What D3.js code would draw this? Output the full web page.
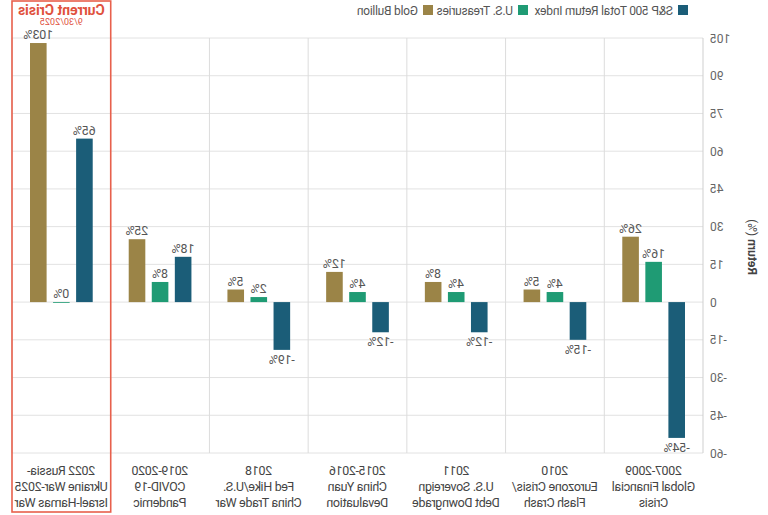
<!DOCTYPE html>
<html>
<head>
<meta charset="utf-8">
<script src="https://cdn.jsdelivr.net/npm/d3@7"></script>
<style>
  body { margin: 0; background: #fff; }
  svg { display: block; transform: scaleX(-1); font-family: "Roboto", "Liberation Sans", sans-serif; }
</style>
</head>
<body>
<svg width="768" height="515"></svg>
<script>
// crisis periods, left to right
var categories = [
  ["2007-2009", "Global Financial", "Crisis"],
  ["2010", "Eurozone Crisis/", "Flash Crash"],
  ["2011", "U.S. Sovereign", "Debt Downgrade"],
  ["2015-2016", "China Yuan", "Devaluation"],
  ["2018", "Fed Hike/U.S.", "China Trade War"],
  ["2019-2020", "COVID-19", "Pandemic"],
  ["2022 Russia-", "Ukraine War-2025", "Israel-Hamas War"]
];
var seriesNames = ["S&P 500 Total Return Index", "U.S. Treasuries", "Gold Bullion"];
var sp500 = [-54, -15, -12, -12, -19, 18, 65];
var treasuries = [16, 4, 4, 4, 2, 8, 0];
var gold = [26, 5, 8, 12, 5, 25, 103];
var yTicks = [-60, -45, -30, -15, 0, 15, 30, 45, 60, 75, 90, 105];

var colors = ["#1b5d78", "#1f9b74", "#9b8447"];
var series = [sp500, treasuries, gold];

var svg = d3.select('svg');
var plotL = 65, plotR = 756, plotT = 38, plotB = 453;

var x0 = d3.scaleBand()
  .domain(d3.range(categories.length))
  .range([plotL, plotR]);

var x1 = d3.scaleBand()
  .domain(d3.range(series.length))
  .range([18, x0.bandwidth() - 18])
  .paddingInner(0.28);

var y = d3.scaleLinear().domain([-60, 105]).range([plotB, plotT]);

// horizontal grid
svg.append('g')
  .selectAll('line')
  .data(yTicks)
  .enter()
  .append('line')
    .attr('x1', plotL).attr('x2', plotR)
    .attr('y1', function(d){return y(d)})
    .attr('y2', function(d){return y(d)})
    .style('stroke', '#e2e2e2');

// vertical separators
svg.append('g')
  .selectAll('line')
  .data(d3.range(categories.length + 1))
  .enter()
  .append('line')
    .attr('x1', function(i){return plotL + i * x0.step()})
    .attr('x2', function(i){return plotL + i * x0.step()})
    .attr('y1', plotT).attr('y2', plotB)
    .style('stroke', function(i){return i == 0 ? '#cfcfcf' : '#dcdcdc'});

// y axis labels
svg.append('g')
  .selectAll('text')
  .data(yTicks)
  .enter()
  .append('text')
    .attr('x', plotL - 7)
    .attr('y', function(d){return y(d) + 4.5})
    .attr('text-anchor', 'end')
    .style('font-size', '12px')
    .style('fill', '#666')
    .text(function(d){return d});

svg.append('text')
  .attr('transform', 'translate(20,247) rotate(-90)')
  .attr('text-anchor', 'middle')
  .style('font-size', '12px')
  .style('fill', '#444')
  .html('<tspan font-weight="bold">Return</tspan> (%)');

// bars and value labels
var groups = svg.append('g')
  .selectAll('g')
  .data(categories)
  .enter()
  .append('g')
    .attr('transform', function(d, i){return 'translate(' + x0(i) + ',0)'});

groups.each(function(d, ci){
  var g = d3.select(this);
  var vals = series.map(function(s){return s[ci]});

  g.selectAll('rect')
    .data(vals)
    .enter()
    .append('rect')
      .attr('x', function(v, si){return x1(si)})
      .attr('width', x1.bandwidth())
      .attr('y', function(v){return y(Math.max(v, 0))})
      .attr('height', function(v){return Math.max(Math.abs(y(v) - y(0)), 0.8)})
      .style('fill', function(v, si){return colors[si]});

  g.selectAll('text.val')
    .data(vals)
    .enter()
    .append('text')
      .attr('class', 'val')
      .attr('x', function(v, si){return x1(si) + x1.bandwidth() / 2})
      .attr('y', function(v){return v >= 0 ? y(v) - 4 : y(v) + 14})
      .attr('text-anchor', 'middle')
      .style('font-size', '12.5px')
      .style('letter-spacing', '-0.2px')
      .style('fill', '#555')
      .text(function(v){return v + '%'});

  g.selectAll('text.cat')
    .data(d)
    .enter()
    .append('text')
      .attr('class', 'cat')
      .attr('x', x0.bandwidth() / 2)
      .attr('y', function(t, li){return 475 + li * 16})
      .attr('text-anchor', 'middle')
      .style('font-size', '12.5px')
      .style('letter-spacing', '-0.35px')
      .style('fill', '#444')
      .text(function(t){return t});
});

// current crisis highlight
var cx = x0(categories.length - 1);
svg.append('rect')
  .attr('x', cx).attr('y', 1)
  .attr('width', x0.bandwidth()).attr('height', 511)
  .style('fill', 'none')
  .style('stroke', '#e8604c')
  .style('stroke-width', 1.6);

svg.append('text')
  .attr('x', cx + x0.bandwidth() / 2).attr('y', 15)
  .attr('text-anchor', 'middle')
  .style('font-size', '14px')
  .style('font-weight', 'bold')
  .style('fill', '#e0513d')
  .text('Current Crisis');

svg.append('text')
  .attr('x', cx + x0.bandwidth() / 2).attr('y', 25)
  .attr('text-anchor', 'middle')
  .style('font-size', '9px')
  .style('fill', '#e0513d')
  .text('9/30/2025');

// legend
var legendX = [80, 240, 335];
var legend = svg.append('g')
  .selectAll('g')
  .data(seriesNames)
  .enter()
  .append('g')
    .attr('transform', function(d, i){return 'translate(' + legendX[i] + ',5)'});

legend.append('rect')
  .attr('width', 10).attr('height', 10)
  .style('fill', function(d, i){return colors[i]});

legend.append('text')
  .attr('x', 15).attr('y', 9.5)
  .style('font-size', '12px')
  .style('letter-spacing', '-0.25px')
  .style('fill', '#555')
  .text(function(d){return d});
</script>
</body>
</html>
